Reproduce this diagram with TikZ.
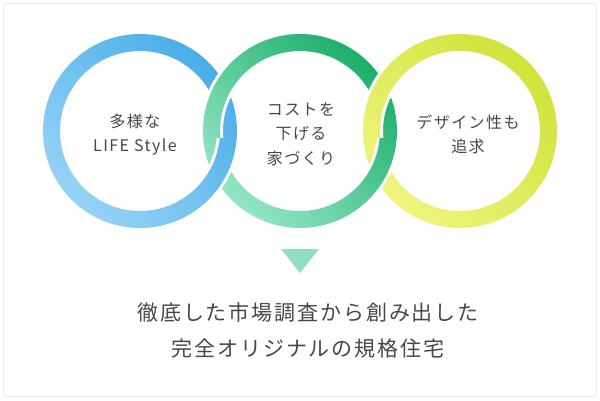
\documentclass[tikz,border=0pt]{standalone}
\usepackage{fontspec}
\newfontfamily\jpfont[LetterSpace=9]{Noto Sans CJK JP}
\usetikzlibrary{positioning}
\definecolor{blueD}{HTML}{4AAEE8}
\definecolor{blueL}{HTML}{95D3F6}
\definecolor{greenD}{HTML}{1DAE6C}
\definecolor{greenL}{HTML}{93E6C5}
\definecolor{yellowD}{HTML}{CEE33A}
\definecolor{yellowL}{HTML}{EFF47E}
\definecolor{textgray}{HTML}{474747}
\definecolor{framegray}{HTML}{EBEBEB}
\definecolor{mint}{HTML}{93DDC2}
\tikzset{
  ringtext/.style={align=center, text=textgray, inner sep=0pt,
    font=\jpfont\fontsize{16}{24.5}\selectfont},
  leadtext/.style={align=center, text=textgray, inner sep=0pt,
    font=\jpfont\fontsize{21}{36}\selectfont},
  gap/.style={fill=white, even odd rule},
}
% ring: centre, dark colour, light colour
\newcommand\drawring[3]{%
  \shade[even odd rule, top color=#2, bottom color=#3, shading angle=-45]
    (#1) circle (97) (#1) circle (80);}
\newcommand\gapring[1]{%
  \fill[gap] (#1) circle (100) (#1) circle (77);}
\begin{document}
\begin{tikzpicture}[x=1pt, y=1pt]
  \useasboundingbox (0,0) rectangle (600,400);
  \draw[framegray, line width=1pt] (3.5,3.5) rectangle (596.5,396.5);

  \coordinate (cblue) at (140,269);
  \coordinate (cgreen) at (300,269);
  \coordinate (cyellow) at (460,269);

  % rings
  \drawring{cblue}{blueD}{blueL}
  \gapring{cgreen}
  \drawring{cgreen}{greenD}{greenL}
  \gapring{cyellow}
  \drawring{cyellow}{yellowD}{yellowL}

  % lower crossings
  \begin{scope}
    \clip (190,262) rectangle (250,165);
    \gapring{cblue}
    \drawring{cblue}{blueD}{blueL}
  \end{scope}
  \begin{scope}
    \clip (350,262) rectangle (410,165);
    \gapring{cgreen}
    \drawring{cgreen}{greenD}{greenL}
  \end{scope}

  % texts
  \node[ringtext] (life) at (135,265.5) {多様な\\LIFE Style};
  \node[ringtext] (cost) at (301,266) {コストを\\下げる\\家づくり};
  \node[ringtext] (design) at (468,265.5) {デザイン性も\\追求};

  \coordinate (tl) at (281,151);
  \coordinate (tr) at (319,151);
  \coordinate (tb) at (300,127);
  \fill[mint] (tl) -- (tr) -- (tb) -- cycle;

  \node[leadtext] (lead) at (308,70) {徹底した市場調査から創み出した\\完全オリジナルの規格住宅};
\end{tikzpicture}
\end{document}
